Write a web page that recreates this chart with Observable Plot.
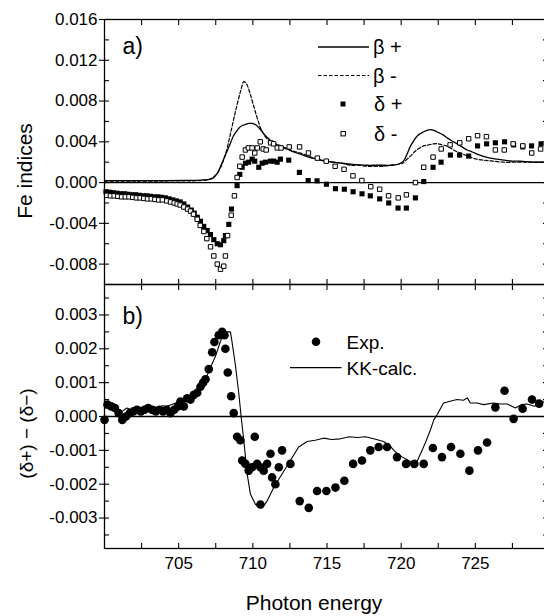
<!DOCTYPE html>
<html><head><meta charset="utf-8">
<script src="https://cdn.jsdelivr.net/npm/d3@7"></script>
<script src="https://cdn.jsdelivr.net/npm/@observablehq/plot@0.6"></script>
<style>
html,body{margin:0;padding:0;background:#fff;overflow:hidden;width:544px;height:616px}
#chart{width:544px;height:616px;overflow:hidden}
#chart svg{display:block}
</style></head><body><div id="chart"></div>
<script>
// ---------- data ----------
const xMajorTicks = [705, 710, 715, 720, 725];
const xMinorTicks = [702.5, 707.5, 712.5, 717.5, 722.5, 727.5];
const topYMajor = [-0.008, -0.004, 0, 0.004, 0.008, 0.012, 0.016];
const topYMinor = [-0.006, -0.002, 0.002, 0.006, 0.010, 0.014];
const botYMajor = [-0.003, -0.002, -0.001, 0, 0.001, 0.002, 0.003];
const botYMinor = [-0.0035, -0.0025, -0.0015, -0.0005, 0.0005, 0.0015, 0.0025, 0.0035];

const betaPlusE = [700, 702, 704, 705.5, 706.5, 707, 707.3, 707.6, 707.8, 708.0, 708.15, 708.3, 708.5, 708.7, 708.94, 709.1, 709.28, 709.5, 709.72, 709.95, 710.17, 710.4, 710.63, 710.85, 711.07, 711.3, 711.52, 711.9, 712.3, 712.75, 713.2, 713.75, 714.33, 714.9, 715.45, 716, 716.58, 717.1, 717.7, 718.3, 718.9, 719.4, 719.95, 720.2, 720.4, 720.6, 720.84, 721.1, 721.41, 721.7, 721.97, 722.25, 722.53, 722.8, 723.09, 723.4, 723.77, 724.1, 724.44, 724.8, 725.11, 725.5, 726.01, 726.5, 726.91, 727.5, 728.03, 728.8, 729.6, 730];
const betaPlusV = [0.0002, 0.0002, 0.0002, 0.00022, 0.00025, 0.0003, 0.0004, 0.0009, 0.0015, 0.0022, 0.0027, 0.0032, 0.0039, 0.0046, 0.0051, 0.0054, 0.0056, 0.0057, 0.0058, 0.0058, 0.0057, 0.0054, 0.005, 0.0046, 0.0043, 0.004, 0.0038, 0.0035, 0.0033, 0.003, 0.0028, 0.0025, 0.0023, 0.0021, 0.002, 0.0019, 0.0018, 0.00175, 0.0017, 0.0017, 0.0017, 0.0017, 0.0019, 0.0022, 0.0028, 0.0035, 0.0041, 0.0046, 0.0049, 0.0051, 0.0052, 0.0051, 0.0049, 0.0047, 0.0044, 0.0041, 0.0038, 0.0035, 0.0032, 0.003, 0.0028, 0.0026, 0.0024, 0.0023, 0.0022, 0.0021, 0.0021, 0.002, 0.002, 0.002];

const betaMinusE = [700, 702, 704, 705.5, 706.5, 707, 707.3, 707.6, 707.8, 708.0, 708.2, 708.4, 708.6, 708.8, 709.0, 709.2, 709.39, 709.6, 709.8, 710.06, 710.3, 710.51, 710.75, 710.96, 711.2, 711.52, 711.9, 712.2, 712.7, 713.2, 713.75, 714.33, 714.9, 715.45, 716, 716.58, 717.1, 717.7, 718.3, 718.9, 719.27, 719.8, 720.1, 720.4, 720.7, 720.96, 721.25, 721.52, 721.85, 722.2, 722.5, 722.75, 723.05, 723.32, 723.65, 724.0, 724.3, 724.66, 725.1, 725.56, 726.2, 726.9, 728, 729, 730];
const betaMinusV = [0.00015, 0.00015, 0.00015, 0.00017, 0.0002, 0.0003, 0.0005, 0.0009, 0.0014, 0.0021, 0.003, 0.0042, 0.0055, 0.0068, 0.008, 0.0091, 0.0099, 0.0096, 0.0088, 0.0075, 0.0063, 0.0054, 0.0047, 0.0043, 0.004, 0.0038, 0.0036, 0.0034, 0.0031, 0.0029, 0.0026, 0.0023, 0.0021, 0.002, 0.0019, 0.0017, 0.0017, 0.0016, 0.0016, 0.0016, 0.0017, 0.0018, 0.0019, 0.0023, 0.0027, 0.0031, 0.0034, 0.0036, 0.0037, 0.0038, 0.0038, 0.0037, 0.0036, 0.0034, 0.0031, 0.0029, 0.0027, 0.0025, 0.0023, 0.0022, 0.0021, 0.002, 0.002, 0.002, 0.002];

const deltaPlusE = [700.1, 700.35, 700.6, 700.85, 701.1, 701.35, 701.6, 701.85, 702.1, 702.35, 702.6, 702.85, 703.1, 703.35, 703.6, 703.85, 704.1, 704.35, 704.6, 704.85, 705.1, 705.35, 705.6, 705.85, 706.05, 706.25, 706.47, 706.69, 706.92, 707.14, 707.37, 707.6, 707.82, 708.04, 708.15, 708.38, 708.56, 708.94, 709.12, 709.28, 709.5, 709.72, 709.95, 710.13, 710.4, 710.63, 710.85, 711.19, 711.41, 711.64, 711.86, 712.42, 713.14, 713.73, 714.33, 714.96, 715.57, 716.17, 716.76, 717.36, 717.92, 718.55, 719.16, 719.79, 720.35, 720.96, 721.52, 722.15, 722.69, 723.32, 723.94, 724.55, 725.15, 725.76, 726.35, 726.97, 727.58, 728.2, 728.79, 729.43];
const deltaPlusV = [-0.0009, -0.00095, -0.001, -0.00105, -0.0011, -0.0011, -0.00115, -0.0012, -0.0012, -0.00125, -0.0013, -0.0013, -0.00135, -0.0014, -0.0014, -0.00145, -0.0015, -0.0016, -0.0017, -0.0018, -0.0019, -0.0021, -0.0024, -0.0027, -0.003, -0.0034, -0.0038, -0.0043, -0.0047, -0.0051, -0.0056, -0.006, -0.0061, -0.0057, -0.0052, -0.0041, -0.0026, -0.0003, 0.0008, 0.0015, 0.0019, 0.002, 0.0023, 0.0021, 0.0015, 0.0019, 0.002, 0.0021, 0.0021, 0.002, 0.0023, 0.0022, 0.001, 0.0002, 0.00017, -0.00016, -0.0006, -0.00065, -0.0009, -0.0011, -0.0013, -0.0016, -0.002, -0.0025, -0.0025, -0.0015, 0.0001, 0.0015, 0.002, 0.0027, 0.0027, 0.0026, 0.0036, 0.0038, 0.0039, 0.004, 0.0037, 0.0035, 0.0036, 0.0038];

const deltaMinusE = [700.15, 700.4, 700.65, 700.9, 701.15, 701.4, 701.65, 701.9, 702.15, 702.4, 702.65, 702.9, 703.15, 703.4, 703.65, 703.9, 704.2, 704.45, 704.7, 704.9, 705.1, 705.35, 705.6, 705.8, 706.0, 706.25, 706.45, 706.7, 706.9, 707.15, 707.37, 707.6, 707.82, 708.04, 708.15, 708.3, 708.54, 708.76, 708.94, 709.12, 709.28, 709.5, 709.7, 709.95, 710.13, 710.3, 710.5, 710.7, 710.9, 711.2, 711.4, 711.65, 711.9, 712.45, 713.15, 713.75, 714.35, 714.95, 715.55, 716.15, 716.75, 717.35, 717.95, 718.55, 719.15, 719.8, 720.35, 720.96, 721.52, 722.15, 722.7, 723.3, 723.95, 724.55, 725.15, 725.75, 726.35, 726.95, 727.55, 728.2, 728.8, 729.4];
const deltaMinusV = [-0.00125, -0.0013, -0.0013, -0.00135, -0.0014, -0.0014, -0.0014, -0.00145, -0.0015, -0.0015, -0.00155, -0.0016, -0.0016, -0.00165, -0.0017, -0.0017, -0.0018, -0.0019, -0.002, -0.0021, -0.0022, -0.0024, -0.0026, -0.0028, -0.0031, -0.0036, -0.0042, -0.0048, -0.0055, -0.0063, -0.0072, -0.008, -0.0085, -0.0082, -0.0072, -0.0052, -0.0032, -0.0013, 0.0005, 0.0016, 0.0025, 0.0032, 0.0034, 0.0034, 0.0029, 0.0034, 0.004, 0.0033, 0.0032, 0.0039, 0.0038, 0.0034, 0.0034, 0.0035, 0.0035, 0.0029, 0.0024, 0.0021, 0.0016, 0.0013, 0.00066, 0.0002, -0.0004, -0.00065, -0.0013, -0.0015, -0.0012, 0.0, 0.0015, 0.0025, 0.0033, 0.0037, 0.0039, 0.0043, 0.0046, 0.0045, 0.0032, 0.0032, 0.0038, 0.0036, 0.0029, 0.0033];

const expE = [700.0, 700.2, 700.45, 700.7, 700.95, 701.2, 701.45, 701.7, 701.95, 702.2, 702.45, 702.7, 702.95, 703.2, 703.45, 703.7, 703.95, 704.2, 704.45, 704.7, 704.95, 705.12, 705.35, 705.57, 705.8, 706.02, 706.25, 706.47, 706.65, 706.81, 707.03, 707.26, 707.41, 707.7, 707.93, 708.09, 708.15, 708.31, 708.54, 708.71, 708.94, 709.16, 709.28, 709.5, 709.72, 709.95, 710.13, 710.29, 710.51, 710.51, 710.73, 710.96, 711.19, 711.3, 711.52, 711.75, 711.97, 712.53, 713.16, 713.77, 714.33, 714.96, 715.57, 716.17, 716.76, 717.36, 717.92, 718.48, 719.05, 719.72, 720.33, 720.89, 721.52, 722.14, 722.75, 723.36, 723.99, 724.6, 725.18, 725.79, 726.35, 726.97, 727.58, 728.19, 728.82, 729.3];
const expV = [-0.0001, 0.00035, 0.0003, 0.00025, 0.0001, -0.0001, 0.0, 0.0001, 0.00015, 0.0002, 0.00015, 0.0002, 0.00025, 0.0002, 0.00015, 0.0002, 0.00015, 0.0002, 0.0001, 0.0002, 0.0003, 0.00044, 0.0003, 0.00054, 0.0005, 0.00064, 0.0007, 0.00088, 0.001, 0.0011, 0.0014, 0.0019, 0.0022, 0.0024, 0.0025, 0.0024, 0.002, 0.0013, 0.0006, 0.0001, -0.0006, -0.0007, -0.0013, -0.0014, -0.0016, -0.0015, -0.0006, -0.0014, -0.0015, -0.0026, -0.0016, -0.0014, -0.0011, -0.0018, -0.002, -0.0015, -0.001, -0.0014, -0.0025, -0.0027, -0.0022, -0.0022, -0.0021, -0.0019, -0.0014, -0.0013, -0.001, -0.0009, -0.0009, -0.0012, -0.0014, -0.0014, -0.0014, -0.00093, -0.0012, -0.0009, -0.0011, -0.0016, -0.001, -0.00077, 0.00027, 0.00076, -0.00007, 0.00023, 0.0005, 0.00038];

const kkE = [700.0, 700.3, 700.6, 700.9, 701.2, 701.5, 701.8, 702.1, 702.4, 702.7, 703.0, 703.3, 703.6, 703.9, 704.2, 704.5, 704.8, 705.1, 705.4, 705.7, 706.0, 706.3, 706.6, 706.9, 707.2, 707.5, 707.8, 708.1, 708.27, 708.49, 708.6, 708.83, 709.05, 709.21, 709.39, 709.62, 709.84, 710.18, 710.63, 710.96, 711.41, 711.97, 712.53, 713.09, 713.66, 714.2, 714.78, 715.3, 715.9, 716.5, 717.03, 717.6, 718.15, 718.82, 719.3, 719.72, 720.1, 720.5, 720.84, 721.1, 721.41, 721.7, 721.97, 722.2, 722.42, 722.86, 723.3, 723.77, 724.2, 724.46, 724.66, 725.11, 725.56, 726.23, 726.7, 727.14, 727.7, 728.1, 728.48, 729.0, 729.38, 730];
const kkV = [0.0003, 0.00035, 0.0003, 0.00022, 0.00015, 0.00025, 0.0002, 0.0003, 0.00025, 0.0003, 0.00028, 0.0003, 0.00025, 0.00032, 0.0003, 0.00035, 0.0004, 0.00048, 0.00045, 0.0006, 0.0007, 0.00085, 0.001, 0.0012, 0.0015, 0.0018, 0.0022, 0.0025, 0.0025, 0.0025, 0.0022, 0.0015, 0.0007, 0.0, -0.0007, -0.0017, -0.0023, -0.0026, -0.0027, -0.0025, -0.0021, -0.0017, -0.0013, -0.0009, -0.00074, -0.0007, -0.00064, -0.00068, -0.00066, -0.0006, -0.00062, -0.0006, -0.00066, -0.00074, -0.0009, -0.0011, -0.0012, -0.0013, -0.0014, -0.0013, -0.001, -0.0007, -0.0004, -0.0001, 0.00005, 0.0004, 0.00045, 0.0005, 0.00048, 0.00055, 0.0004, 0.0004, 0.00035, 0.0004, 0.00037, 0.00037, 0.00025, 0.00035, 0.00037, 0.0003, 0.00044, 0.0004];

// ---------- build ----------
const zip = (E, V) => E.map((e, i) => ({e, v: V[i]}));
const betaPlus = zip(betaPlusE, betaPlusV);
const betaMinus = zip(betaMinusE, betaMinusV);
const deltaPlus = zip(deltaPlusE, deltaPlusV);
const deltaMinus = zip(deltaMinusE, deltaMinusV);
const expData = zip(expE, expV);
const kkData = zip(kkE, kkV);

const FONT = "'Liberation Sans', Arial, Helvetica, sans-serif";
const W = 549, ML = 104;
const xAll = [...xMajorTicks, ...xMinorTicks];
const baseStyle = {fontFamily: FONT, fontSize: "17px", color: "#000", background: "transparent", maxWidth: "none", overflow: "visible"};

function tickMarks(yMajor, yMinor) {
  return [
    Plot.axisX(xAll, {anchor: "top", tickSize: -5, fill: "none", strokeWidth: 1.1}),
    Plot.axisX(xAll, {anchor: "bottom", tickSize: -5, fill: "none", strokeWidth: 1.1}),
    Plot.axisY(yMajor, {anchor: "left", tickSize: 5, fill: "none", strokeWidth: 1.1}),
    Plot.axisY([...yMajor, ...yMinor], {anchor: "left", tickSize: -5, fill: "none", strokeWidth: 1.1}),
    Plot.axisY([...yMajor, ...yMinor], {anchor: "right", tickSize: -7, fill: "none", strokeWidth: 1.1}),
    Plot.axisY(yMajor, {anchor: "left", tickSize: 0, tickPadding: 7, stroke: "none", label: null, fontSize: 17, tickFormat: d => d.toFixed(3)})
  ];
}

const topPlot = Plot.plot({
  width: W, height: 284, marginLeft: ML, marginRight: 0, marginTop: 19, marginBottom: 0,
  style: baseStyle,
  x: {domain: [700, 730], axis: null},
  y: {domain: [-0.010, 0.016], axis: null},
  marks: [
    Plot.ruleY([0], {stroke: "#000", strokeWidth: 1.3}),
    Plot.line(betaMinus, {x: "e", y: "v", stroke: "#000", strokeWidth: 1.2, strokeDasharray: "3.5,2", curve: "catmull-rom"}),
    Plot.line(betaPlus, {x: "e", y: "v", stroke: "#000", strokeWidth: 1.3, curve: "catmull-rom"}),
    Plot.dot(deltaPlus, {x: "e", y: "v", symbol: "square", r: 2.9, fill: "#000", stroke: "none"}),
    Plot.dot(deltaMinus, {x: "e", y: "v", symbol: "square", r: 2.5, fill: "#fff", stroke: "#000", strokeWidth: 1}),
    ...tickMarks(topYMajor, topYMinor),
    Plot.frame({stroke: "#000", strokeWidth: 1.3}),
    Plot.text(["Fe indices"], {text: d => d, frameAnchor: "left", textAnchor: "middle", lineAnchor: "middle", dx: -79, dy: 19, rotate: -90, fontSize: 21}),
    Plot.text(["a)"], {text: d => d, frameAnchor: "top-left", dx: 18, dy: 18, fontSize: 23, textAnchor: "start", lineAnchor: "top"})
  ]
});

const bottomPlot = Plot.plot({
  width: W, height: 332, marginLeft: ML, marginRight: 0, marginTop: 0, marginBottom: 68,
  style: baseStyle,
  x: {domain: [700, 730], axis: null},
  y: {domain: [-0.0039, 0.0039], axis: null},
  marks: [
    Plot.ruleY([0], {stroke: "#000", strokeWidth: 1.3}),
    Plot.line(kkData, {x: "e", y: "v", stroke: "#000", strokeWidth: 1.1}),
    Plot.dot(expData, {x: "e", y: "v", r: 4.3, fill: "#000", stroke: "none"}),
    ...tickMarks(botYMajor, botYMinor),
    Plot.axisX(xMajorTicks, {anchor: "bottom", tickSize: 0, tickPadding: 8, stroke: "none", label: null, fontSize: 17, tickFormat: d => String(d)}),
    Plot.frame({stroke: "#000", strokeWidth: 1.3}),
    Plot.text(["(\u03B4+) \u2212 (\u03B4\u2212)"], {text: d => d, frameAnchor: "left", textAnchor: "middle", lineAnchor: "middle", dx: -78, dy: 17, rotate: -90, fontSize: 19, style: {letterSpacing: "1.2px"}}),
    Plot.text(["b)"], {text: d => d, frameAnchor: "top-left", dx: 18, dy: 23, fontSize: 23, textAnchor: "start", lineAnchor: "top"}),
    Plot.text(["Photon energy"], {text: d => d, frameAnchor: "bottom", textAnchor: "middle", lineAnchor: "middle", dx: -13, dy: 55, fontSize: 21})
  ]
});

// ---------- legends ----------
function legendText(sel, x, y, t, size) {
  sel.append("text").attr("x", x).attr("y", y).attr("dy", "0.35em").attr("text-anchor", "start")
    .attr("font-family", FONT).attr("font-size", size).attr("fill", "#000").text(t);
}
const gt = d3.select(topPlot).append("g").attr("class", "legend").attr("text-anchor", "start");
gt.append("line").attr("x1", 318).attr("x2", 369).attr("y1", 47).attr("y2", 47).attr("stroke", "#000").attr("stroke-width", 1.3);
legendText(gt, 373, 47, "\u03B2 +", 20);
gt.append("line").attr("x1", 318).attr("x2", 369).attr("y1", 75.5).attr("y2", 75.5).attr("stroke", "#000").attr("stroke-width", 1.2).attr("stroke-dasharray", "3.5,2");
legendText(gt, 373, 76, "\u03B2 -", 20);
gt.append("rect").attr("x", 340.5).attr("y", 101.5).attr("width", 5).attr("height", 5).attr("fill", "#000");
legendText(gt, 374, 104, "\u03B4 +", 20);
gt.append("rect").attr("x", 341).attr("y", 131.5).attr("width", 4.4).attr("height", 4.4).attr("fill", "#fff").attr("stroke", "#000");
legendText(gt, 374, 134, "\u03B4 -", 20);

const gb = d3.select(bottomPlot).append("g").attr("class", "legend").attr("text-anchor", "start");
gb.append("circle").attr("cx", 316).attr("cy", 341.7 - 284).attr("r", 4.3).attr("fill", "#000");
legendText(gb, 346.5, 342 - 284, "Exp.", 19);
gb.append("line").attr("x1", 290).attr("x2", 341.5).attr("y1", 367.7 - 284).attr("y2", 367.7 - 284).attr("stroke", "#000").attr("stroke-width", 1.2);
legendText(gb, 346.5, 368 - 284, "KK-calc.", 19);

const chart = document.getElementById("chart");
chart.appendChild(topPlot);
chart.appendChild(bottomPlot);
</script></body></html>
